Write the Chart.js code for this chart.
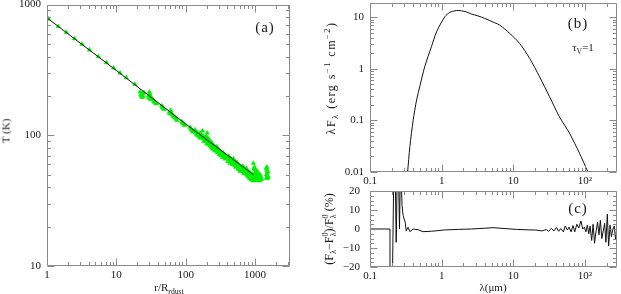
<!DOCTYPE html>
<html>
<head>
<meta charset="utf-8">
<script src="https://cdn.jsdelivr.net/npm/chart.js@4.4.1/dist/chart.umd.min.js"></script>
<style>
  html, body { margin: 0; padding: 0; background: #fff; }
  #wrap { position: relative; width: 621px; height: 294px; overflow: hidden;
          font-family: "Liberation Serif", serif; color: #1a1a1a; }
  canvas { position: absolute; }
  .lbl { position: absolute; white-space: nowrap; transform: translate(-50%, -50%);
         font-size: 11px; line-height: 1; }
  .rot { transform: translate(-50%, -50%) rotate(-90deg); }
  .wide { font-size: 12px; letter-spacing: 1.5px; }
  .panel { font-size: 15px; letter-spacing: 1px; }
  sub, sup { font-size: 70%; line-height: 0; }
  .ss { display: inline-flex; flex-direction: column; vertical-align: middle;
        font-size: 70%; line-height: 0.95; letter-spacing: 0; }
</style>
</head>
<body>
<div id="wrap">
  <canvas id="cA" width="310" height="294" style="left:0;top:0"></canvas>
  <canvas id="cB" width="311" height="190" style="left:310px;top:0"></canvas>
  <canvas id="cC" width="311" height="108" style="left:310px;top:186px"></canvas>

  <div class="lbl rot" style="left:6px;top:131px">T (K)</div>
  <div class="lbl" style="left:169px;top:287px">r/R<sub>rdust</sub></div>
  <div class="lbl panel" style="left:265px;top:27px">(a)</div>

  <div class="lbl rot wide" style="left:331px;top:78px">&lambda;F<sub>&lambda;</sub> (erg s<sup>&minus;1</sup> cm<sup>&minus;2</sup>)</div>
  <div class="lbl panel" style="left:578px;top:23px">(b)</div>
  <div class="lbl" style="left:583px;top:47px">&tau;<sub>V</sub>=1</div>

  <div class="lbl rot" style="left:330px;top:229px;font-size:12px">(F<sub>&lambda;</sub>&minus;F<span class="ss"><span>0</span><span>&lambda;</span></span>)/F<span class="ss"><span>0</span><span>&lambda;</span></span> (%)</div>
  <div class="lbl panel" style="left:578px;top:208px">(c)</div>
  <div class="lbl" style="left:493px;top:287px">&lambda;(&mu;m)</div>
</div>

<script>
/* ── (a) dust temperature vs radius ── */
const lineR = [1, 10, 100, 950];
const lineT = [790, 313, 122, 50];

const dotR = [1.05, 1.45, 1.9, 2.5, 3.2, 4.1, 5.5, 7.2, 9.1, 11.3, 13.9, 18.5,
  22, 22.5, 23, 23.5, 24, 25, 24.5,
  29, 29.5, 30, 30.5, 31, 31.5, 32,
  34, 35, 36, 37, 38,
  45, 46, 47, 48, 49,
  58, 59, 61, 62, 64, 66, 68,
  71, 73, 75,
  88, 90, 93, 95, 97,
  116, 119, 122, 125, 128,
  137, 140, 142, 145, 148, 150, 155, 158,
  170, 172, 175, 180, 185, 190, 195, 200, 205, 208, 210, 215, 218, 220, 225, 230, 235, 240, 245, 250,
  260, 270, 280, 290, 300, 310, 320, 335, 345,
  350, 365, 380, 400, 415, 430, 445, 460, 480,
  490, 500, 520, 540, 560, 580, 600, 620, 640, 670,
  680, 700, 720, 750, 760, 780, 800, 830, 850, 880, 900, 940,
  950, 960, 980, 1000, 1020, 1040, 1050,
  1100, 1130, 1150, 1200, 1250,
  1450, 1470, 1480, 1500, 1520, 1550,
  160, 165, 178, 183, 192, 198, 203, 212, 228, 238, 248, 255, 265, 275, 285, 295, 305, 315, 325, 330,
  340, 355, 370, 390, 405, 420, 438, 450, 470, 495, 510, 530, 550, 570, 590, 610, 630, 650, 660, 690,
  710, 730, 740, 770, 790, 810, 820, 840, 860, 870, 890, 910, 920, 930, 970, 990, 1010, 1030, 1060, 1080,
  1120, 1170, 1180, 1220, 1490, 1510, 1530, 1460];
const dotT = [775, 680, 612, 548, 497, 450, 400, 360, 327, 300, 276, 246,
  215, 205, 200, 195, 208, 212, 198,
  200, 192, 214, 207, 198, 188, 194,
  186, 181, 179, 176, 174,
  168, 164, 162, 160, 158,
  150, 146, 155, 149, 144, 140, 138,
  136, 133, 130,
  127, 124, 123, 121, 119,
  115, 112, 110, 108, 106,
  110, 106, 102, 105, 101, 100, 99, 97,
  100, 96, 108, 95, 93, 96, 90, 93, 104, 95, 88, 85, 91, 92, 84, 82, 88, 86, 80, 79,
  82, 79, 77, 80, 74, 76, 72, 73, 70,
  73, 68, 70, 68, 64, 66, 62, 64, 63,
  66, 60, 62, 58, 60, 56, 58, 54, 57, 56,
  57, 52, 54, 56, 52, 49, 50, 52, 49, 46, 48, 47,
  61, 55, 57, 52, 48, 46, 50,
  51, 45, 47, 49, 46,
  56, 50, 54, 52, 47, 48,
  104, 95, 99, 90, 92, 98, 86, 92, 87, 80, 84, 78, 76, 82, 74, 77, 71, 75, 70, 74,
  68, 70, 66, 67, 63, 69, 61, 66, 60, 62, 59, 57, 62, 55, 59, 53, 55, 53, 58, 51,
  55, 51, 53, 50, 53, 48, 51, 47, 51, 47, 50, 46, 50, 45, 49, 45, 55, 52, 47, 53,
  49, 45, 50, 47, 57, 49, 53, 47];

const rTicks  = [1, 10, 100, 1000],  rLabels = ['1', '10', '100', '1000'];
const tTicks  = [10, 100, 1000],     tLabels = ['10', '100', '1000'];

/* ── (b) SED ── */
const lamB  = [0.335, 0.36, 0.40, 0.447, 0.50, 0.58, 0.72, 0.85, 1.11, 1.3, 1.53, 1.7, 1.89, 2.2, 2.61, 3.2,
               4.0, 5.5, 6.46, 8.9, 12.3, 16.9, 23.3, 32, 44, 61, 84, 110];
const fluxB = [0.01, 0.031, 0.10, 0.25, 0.48, 1.1, 2.7, 5.25, 10.3, 12.5, 13.4, 13.6, 13.4, 12.8, 11.6, 10.7,
               9.55, 7.85, 7.1, 4.9, 3.1, 1.6, 0.70, 0.29, 0.118, 0.056, 0.023, 0.01];

/* ── (c) relative deviation (%) ── */
const lamC = [0.1, 0.19, 0.1905, 0.205, 0.215, 0.225, 0.232, 0.24, 0.25, 0.258, 0.265, 0.275, 0.28, 0.29,
  0.31, 0.32, 0.34, 0.36, 0.40, 0.47, 0.55, 0.72, 1.1, 1.7, 2.6, 4.0, 5.2, 7.2, 11, 17,
  20, 25, 29, 31, 34, 37, 40, 43, 46, 50, 53, 57, 60, 64, 68, 72, 77, 82, 88, 93, 98,
  103, 108, 113, 118, 124, 130, 136, 143, 150, 157, 164, 172, 180, 188, 196, 205, 214,
  224, 234, 245, 256, 268, 280];
const devC = [0, 0, -30, -30, 30, 30, -7, 30, 30, 0, 30, 22, 12.4, 7.1,
  3.5, -0.9, 0.9, -1.4, 0, -0.4, -1.4, -1.2, -0.5, -0.2, 0, 0.4, 0.7, 0.3, -0.2, -0.5,
  -0.5, -1, -0.3, -1.2, 0.3, -1, 0.8, -1.2, 0.2, -1.5, 1.5, -0.5, 1, -1.5, 1.8, -1.5, 2.5, 0.5, 4.2, 0, 1,
  -1.5, 2, -2.5, 1.5, -6, 2.5, -7.5, -1, 3.5, -3, 4.5, -5, -1, 3, -7, 7.8, -9,
  2, -4, 0, 1.5, -5.5, 2];

const lamTicks  = [0.1, 1, 10, 100],      lamLabels  = ['0.1', '1', '10', '10²'];
const fluxTicks = [0.01, 0.1, 1, 10],     fluxLabels = ['0.01', '0.1', '1', '10'];
const devTicks  = [-20, -10, 0, 10, 20],  devLabels  = ['−20', '−10', '0', '10', '20'];

const pts = (xs, ys) => xs.map((x, i) => ({ x, y: ys[i] }));

/* ── tick marks: inward, on all four sides ── */
function marks(s, step) {
  const out = [];
  if (s.type === 'logarithmic') {
    for (let e = Math.floor(Math.log10(s.min)); e <= Math.ceil(Math.log10(s.max)); e++)
      for (let k = 1; k <= 9; k++) {
        const v = k * Math.pow(10, e);
        if (v >= s.min * 0.9999 && v <= s.max * 1.0001) out.push({ v, major: k === 1 });
      }
  } else {
    for (let v = s.min; v <= s.max + 1e-9; v += step) out.push({ v, major: Math.abs(v % 10) < 1e-9 });
  }
  return out;
}

const frameTicks = {
  id: 'frameTicks',
  afterDatasetsDraw(chart, args, opts) {
    const { ctx, chartArea: a, scales: { x, y } } = chart;
    const L = Math.round(a.left) + 0.5, R = Math.round(a.right) - 0.5;
    const T = Math.round(a.top) + 0.5,  B = Math.round(a.bottom) - 0.5;
    ctx.save();
    ctx.strokeStyle = '#8a8a8a';
    ctx.lineWidth = 1;
    ctx.beginPath();
    ctx.rect(L, T, R - L, B - T);
    marks(x, opts.xStep).forEach(m => {
      const p = Math.round(x.getPixelForValue(m.v)) + 0.5, n = m.major ? 7 : 3.5;
      ctx.moveTo(p, B); ctx.lineTo(p, B - n);
      ctx.moveTo(p, T); ctx.lineTo(p, T + n);
    });
    marks(y, opts.yStep).forEach(m => {
      const p = Math.round(y.getPixelForValue(m.v)) + 0.5, n = m.major ? 7 : 3.5;
      ctx.moveTo(L, p); ctx.lineTo(L + n, p);
      ctx.moveTo(R, p); ctx.lineTo(R - n, p);
    });
    ctx.stroke();
    ctx.restore();
  }
};

function axis(type, min, max, ticks, labels, pad, size, horiz) {
  return {
    type, min, max,
    grid: { display: false, drawTicks: false },
    border: { display: false },
    afterBuildTicks: s => { s.ticks = ticks.map(v => ({ value: v })); },
    afterFit: s => {
      if (horiz) s.height = size; else s.width = size;
      s.paddingTop = s.paddingBottom = s.paddingLeft = s.paddingRight = 0;
    },
    ticks: {
      padding: pad, color: '#1a1a1a', autoSkip: false, maxRotation: 0,
      font: { family: 'Liberation Serif', size: 11 },
      callback: (v, i) => labels[i]
    }
  };
}

function base(pad, x, y, step) {
  return {
    responsive: false,
    animation: false,
    layout: { padding: pad },
    plugins: { legend: { display: false }, tooltip: { enabled: false }, frameTicks: step },
    scales: { x, y }
  };
}

Chart.register(frameTicks);

new Chart(document.getElementById('cA'), {
  type: 'scatter',
  data: {
    datasets: [
      { data: pts(lineR, lineT), showLine: true, borderColor: '#111', borderWidth: 1, pointRadius: 0 },
      { data: pts(dotR, dotT), pointStyle: 'triangle', pointRadius: 2.6,
        backgroundColor: '#00f000', borderColor: '#00f000', borderWidth: 0.5 }
    ]
  },
  options: base({ top: 4, right: 20, left: 0, bottom: 0 },
    axis('logarithmic', 1, 3200, rTicks, rLabels, 3, 28, true),
    axis('logarithmic', 10, 1000, tTicks, tLabels, 6, 47, false), {})
});

new Chart(document.getElementById('cB'), {
  type: 'scatter',
  data: {
    datasets: [
      { data: pts(lamB, fluxB), showLine: true, borderColor: '#111', borderWidth: 1, pointRadius: 0, tension: 0.3 }
    ]
  },
  options: base({ top: 3, right: 4, left: 0, bottom: 0 },
    axis('logarithmic', 0.1, 280, lamTicks, lamLabels, 3, 18, true),
    axis('logarithmic', 0.01, 19, fluxTicks, fluxLabels, 6, 60, false), {})
});

new Chart(document.getElementById('cC'), {
  type: 'scatter',
  data: {
    datasets: [
      { data: pts(lamC, devC), showLine: true, borderColor: '#111', borderWidth: 1, pointRadius: 0 }
    ]
  },
  options: base({ top: 5, right: 4, left: 0, bottom: 0 },
    axis('logarithmic', 0.1, 280, lamTicks, lamLabels, 3, 27, true),
    axis('linear', -20, 20, devTicks, devLabels, 10, 60, false), { yStep: 2.5 })
});
</script>
</body>
</html>
